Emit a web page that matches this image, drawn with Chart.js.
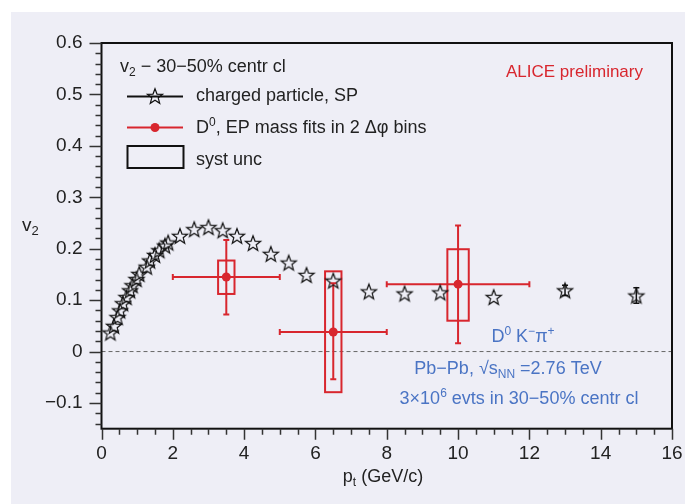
<!DOCTYPE html>
<html>
<head>
<meta charset="utf-8">
<script src="https://cdn.jsdelivr.net/npm/chart.js@4.4.0/dist/chart.umd.min.js"></script>
<style>
  html, body { margin: 0; padding: 0; background: #fff; }
  #panel { position: absolute; left: 11px; top: 12px; right: 0; bottom: 0; background: #eeeef6; }
  #wrap { position: absolute; left: 0; top: 0; width: 685px; height: 504px; }
</style>
</head>
<body>
<div id="panel"></div>
<div id="wrap"><canvas id="chart" width="685" height="504"></canvas></div>
<script>
// charged particle v2 (scalar product)
const chargedPt = [0.25, 0.35, 0.45, 0.52, 0.6, 0.7, 0.8, 0.87, 0.98, 1.06, 1.27, 1.36, 1.5, 1.62, 1.78, 1.87,
  2.2, 2.6, 3.0, 3.4, 3.8, 4.25, 4.75, 5.25, 5.75, 6.5, 7.5, 8.5, 9.5, 11, 13, 15];
const chargedV2 = [0.037, 0.050, 0.067, 0.080, 0.094, 0.106, 0.119, 0.129, 0.141, 0.151, 0.165, 0.177, 0.188, 0.197, 0.206, 0.212,
  0.225, 0.238, 0.242, 0.236, 0.225, 0.211, 0.190, 0.173, 0.149, 0.138, 0.117, 0.113, 0.115, 0.106, 0.119, 0.109];
const chargedErr = [0, 0, 0, 0, 0, 0, 0, 0, 0, 0, 0, 0, 0, 0, 0, 0,
  0, 0, 0, 0, 0, 0, 0, 0, 0, 0, 0, 0, 0, 0, 0.010, 0.015];

// D0 v2, EP mass fits
const d0Pt = [3.5, 6.5, 10];
const d0V2 = [0.145, 0.038, 0.131];
const d0PtLow = [2, 5, 8];
const d0PtHigh = [5, 8, 12];
const d0StatUp = [0.072, 0.095, 0.114];
const d0StatDown = [0.073, 0.092, 0.115];
const d0SystUp = [0.032, 0.118, 0.068];
const d0SystDown = [0.033, 0.117, 0.071];

const xTicks = [0, 2, 4, 6, 8, 10, 12, 14, 16];
const yTicks = [-0.1, 0, 0.1, 0.2, 0.3, 0.4, 0.5, 0.6];

const RED = '#d8262e';
const BLUE = '#4a74c4';
const INK = '#222';
const FONT = "'Liberation Sans', Arial, sans-serif";

function makeStar(r) {
  const c = document.createElement('canvas');
  const s = Math.ceil(r * 2 + 4);
  c.width = c.height = s;
  const g = c.getContext('2d');
  g.beginPath();
  for (let i = 0; i < 10; i++) {
    const a = -Math.PI / 2 + i * Math.PI / 5;
    const rr = i % 2 ? r * 0.42 : r;
    g.lineTo(s / 2 + rr * Math.cos(a), s / 2 + 0.8 + rr * Math.sin(a));
  }
  g.closePath();
  g.strokeStyle = '#111';
  g.lineWidth = 1.2;
  g.stroke();
  return c;
}
const starImg = makeStar(8);

// text with sub/superscripts: parts = [[text, 'sub'|'sup'|undefined], ...]
function richText(ctx, parts, x, y, size, color, align) {
  const small = Math.round(size * 0.68);
  let w = 0;
  parts.forEach(p => {
    ctx.font = (p[1] ? small : size) + 'px ' + FONT;
    w += ctx.measureText(p[0]).width;
  });
  let cx = align === 'center' ? x - w / 2 : x;
  ctx.fillStyle = color;
  ctx.textBaseline = 'middle';
  ctx.textAlign = 'left';
  parts.forEach(p => {
    ctx.font = (p[1] ? small : size) + 'px ' + FONT;
    const dy = p[1] === 'sub' ? size * 0.3 : p[1] === 'sup' ? -size * 0.3 : 0;
    ctx.fillText(p[0], cx, y + dy);
    cx += ctx.measureText(p[0]).width;
  });
}

const framePlugin = {
  id: 'frame',
  beforeDatasetsDraw(chart) {
    const { ctx, chartArea: a, scales: { x, y } } = chart;
    ctx.save();
    // zero line
    ctx.strokeStyle = '#666';
    ctx.lineWidth = 1;
    ctx.setLineDash([4, 3]);
    ctx.beginPath();
    ctx.moveTo(a.left, y.getPixelForValue(0));
    ctx.lineTo(a.right, y.getPixelForValue(0));
    ctx.stroke();
    ctx.setLineDash([]);

    // D0 syst boxes and stat bars
    const halfW = [0.23, 0.23, 0.3];
    ctx.strokeStyle = RED;
    ctx.lineWidth = 2;
    d0Pt.forEach((pt, i) => {
      const x0 = x.getPixelForValue(pt - halfW[i]);
      const x1 = x.getPixelForValue(pt + halfW[i]);
      const yt = y.getPixelForValue(d0V2[i] + d0SystUp[i]);
      const yb = y.getPixelForValue(d0V2[i] - d0SystDown[i]);
      ctx.strokeRect(x0, yt, x1 - x0, yb - yt);

      const px = x.getPixelForValue(pt), py = y.getPixelForValue(d0V2[i]);
      const xl = x.getPixelForValue(d0PtLow[i]), xh = x.getPixelForValue(d0PtHigh[i]);
      const su = y.getPixelForValue(d0V2[i] + d0StatUp[i]);
      const sd = y.getPixelForValue(d0V2[i] - d0StatDown[i]);
      ctx.beginPath();
      ctx.moveTo(xl, py); ctx.lineTo(xh, py);
      ctx.moveTo(xl, py - 3); ctx.lineTo(xl, py + 3);
      ctx.moveTo(xh, py - 3); ctx.lineTo(xh, py + 3);
      ctx.moveTo(px, su); ctx.lineTo(px, sd);
      ctx.moveTo(px - 3, su); ctx.lineTo(px + 3, su);
      ctx.moveTo(px - 3, sd); ctx.lineTo(px + 3, sd);
      ctx.stroke();
    });

    // charged particle stat errors
    ctx.strokeStyle = '#111';
    ctx.lineWidth = 1.5;
    chargedPt.forEach((pt, i) => {
      if (!chargedErr[i]) return;
      const px = x.getPixelForValue(pt);
      const su = y.getPixelForValue(chargedV2[i] + chargedErr[i]);
      const sd = y.getPixelForValue(chargedV2[i] - chargedErr[i]);
      ctx.beginPath();
      ctx.moveTo(px, su); ctx.lineTo(px, sd);
      ctx.moveTo(px - 3, su); ctx.lineTo(px + 3, su);
      ctx.moveTo(px - 3, sd); ctx.lineTo(px + 3, sd);
      ctx.stroke();
    });
    ctx.restore();
  },
  afterDraw(chart) {
    const { ctx, chartArea: a, scales: { x, y } } = chart;
    ctx.save();
    // frame
    ctx.strokeStyle = '#111';
    ctx.lineWidth = 2;
    ctx.strokeRect(a.left, a.top, a.right - a.left, a.bottom - a.top);

    // axis ticks (outside)
    ctx.lineWidth = 1.5;
    ctx.strokeStyle = '#333';
    ctx.beginPath();
    for (let i = -7; i <= 30; i++) {
      const py = Math.round(y.getPixelForValue(i * 0.02)) + 0.5;
      const len = i % 5 === 0 ? 12 : 6;
      ctx.moveTo(a.left - len, py); ctx.lineTo(a.left, py);
    }
    for (let i = 0; i <= 32; i++) {
      const px = Math.round(x.getPixelForValue(i * 0.5)) + 0.5;
      const len = i % 4 === 0 ? 11 : 6;
      ctx.moveTo(px, a.bottom); ctx.lineTo(px, a.bottom + len);
    }
    ctx.stroke();

    // axis titles
    richText(ctx, [['v'], ['2', 'sub']], 22, 226, 19, INK);
    richText(ctx, [['p'], ['t', 'sub'], [' (GeV/c)']], 383, 477, 18, INK, 'center');

    // legend
    richText(ctx, [['v'], ['2', 'sub'], [' \u2212 30\u221250% centr cl']], 120, 67, 18, INK);
    ctx.lineWidth = 2;
    ctx.strokeStyle = '#111';
    ctx.beginPath(); ctx.moveTo(127, 96.5); ctx.lineTo(183, 96.5); ctx.stroke();
    ctx.drawImage(starImg, 155 - starImg.width / 2, 96 - starImg.height / 2);
    richText(ctx, [['charged particle, SP']], 196, 96, 18, INK);

    ctx.strokeStyle = RED;
    ctx.beginPath(); ctx.moveTo(127, 127.5); ctx.lineTo(183, 127.5); ctx.stroke();
    ctx.fillStyle = RED;
    ctx.beginPath(); ctx.arc(155, 127.5, 4.5, 0, Math.PI * 2); ctx.fill();
    richText(ctx, [['D'], ['0', 'sup'], [', EP mass fits in 2 \u0394\u03c6 bins']], 196, 128, 18, INK);

    ctx.strokeStyle = '#111';
    ctx.strokeRect(127.5, 146, 56, 22);
    richText(ctx, [['syst unc']], 196, 160, 18, INK);

    richText(ctx, [['ALICE preliminary']], 506, 72, 17, RED);

    richText(ctx, [['D'], ['0', 'sup'], [' K'], ['\u2212', 'sup'], ['\u03c0'], ['+', 'sup']], 523, 337, 18, BLUE, 'center');
    richText(ctx, [['Pb\u2212Pb, \u221as'], ['NN', 'sub'], [' =2.76 TeV']], 508, 369, 18, BLUE, 'center');
    richText(ctx, [['3\u00d710'], ['6', 'sup'], [' evts in 30\u221250% centr cl']], 519, 399, 18, BLUE, 'center');
    ctx.restore();
  }
};

Chart.defaults.font.family = FONT;

new Chart(document.getElementById('chart'), {
  type: 'scatter',
  data: {
    datasets: [
      {
        label: 'charged particle, SP',
        data: chargedPt.map((pt, i) => ({ x: pt, y: chargedV2[i] })),
        pointStyle: starImg,
        pointRadius: 8
      },
      {
        label: 'D0, EP mass fits in 2 \u0394\u03c6 bins',
        data: d0Pt.map((pt, i) => ({ x: pt, y: d0V2[i] })),
        pointStyle: 'circle',
        pointRadius: 4.5,
        backgroundColor: RED,
        borderColor: RED,
        borderWidth: 0
      }
    ]
  },
  options: {
    responsive: false,
    animation: false,
    events: [],
    layout: { padding: { top: 43, right: 13, left: 0, bottom: 0 } },
    plugins: { legend: { display: false }, tooltip: { enabled: false } },
    scales: {
      x: {
        type: 'linear',
        min: 0,
        max: 16,
        grid: { display: false },
        border: { display: false },
        afterBuildTicks: s => { s.ticks = xTicks.map(v => ({ value: v })); },
        afterFit: s => { s.height = 75.3; s.paddingLeft = 0; s.paddingRight = 0; },
        ticks: {
          color: INK,
          font: { size: 19 },
          padding: 6,
          maxRotation: 0,
          callback: v => String(v)
        }
      },
      y: {
        type: 'linear',
        min: -0.15,
        max: 0.6,
        grid: { display: false },
        border: { display: false },
        afterBuildTicks: s => { s.ticks = yTicks.map(v => ({ value: v })); },
        afterFit: s => { s.width = 101.5; s.paddingTop = 0; s.paddingBottom = 0; },
        ticks: {
          color: INK,
          font: { size: 19 },
          padding: 11,
          callback: v => v === 0 ? '0' : (v < 0 ? '\u2212' : '') + Math.abs(v).toFixed(1)
        }
      }
    }
  },
  plugins: [framePlugin]
});
</script>
</body>
</html>
